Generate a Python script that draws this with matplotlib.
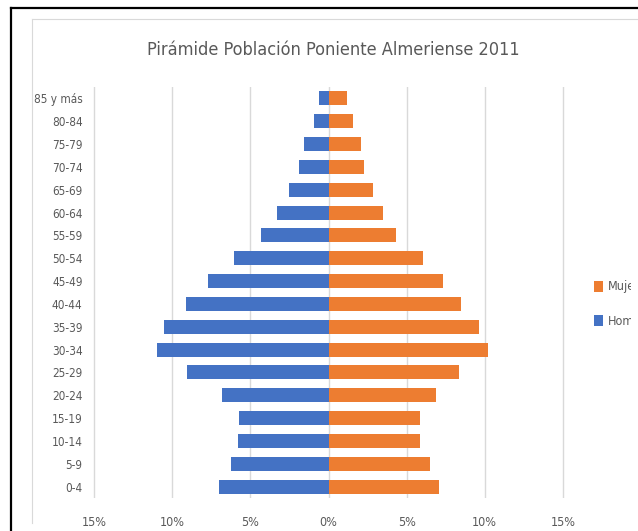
import matplotlib.pyplot as plt
from matplotlib.transforms import Bbox
from matplotlib.ticker import FuncFormatter
import numpy as np

plt.rcParams['font.family'] = ['DejaVu Sans']
plt.rcParams['font.stretch'] = 'condensed'

# grupos de edad (de abajo hacia arriba)
edades = ['0-4', '5-9', '10-14', '15-19', '20-24', '25-29', '30-34', '35-39',
          '40-44', '45-49', '50-54', '55-59', '60-64', '65-69', '70-74',
          '75-79', '80-84', '85 y más']
# porcentajes sobre la población total
hombres = [7.0, 6.26, 5.81, 5.75, 6.84, 9.04, 11.0, 10.55, 9.1, 7.71, 6.06,
           4.31, 3.29, 2.54, 1.92, 1.6, 0.96, 0.58]
mujeres = [7.05, 6.47, 5.85, 5.85, 6.85, 8.35, 10.2, 9.64, 8.5, 7.35, 6.03,
           4.33, 3.5, 2.82, 2.3, 2.05, 1.56, 1.17]
ticks = [-15, -10, -5, 0, 5, 10, 15]

W, H = 638, 531
fig = plt.figure(figsize=(W / 100, H / 100), dpi=100)
gray = '#595959'

# marcos (captura de pantalla)
fig.add_artist(plt.Line2D([11 / W, 11 / W], [0, 1 - 8 / H], color='black', lw=1.6,
                          transform=fig.transFigure))
fig.add_artist(plt.Line2D([11 / W, 1], [1 - 8 / H, 1 - 8 / H], color='black', lw=1.6,
                          transform=fig.transFigure))
fig.add_artist(plt.Line2D([32 / W, 32 / W], [8 / H, 1 - 19 / H], color='#d9d9d9', lw=0.8,
                          transform=fig.transFigure))
fig.add_artist(plt.Line2D([32 / W, 1], [1 - 19 / H, 1 - 19 / H], color='#d9d9d9', lw=0.8,
                          transform=fig.transFigure))

ax = fig.add_axes([91 / W, 33 / H, 475 / W, 411 / H])
y = np.arange(len(edades))
ax.barh(y, mujeres, height=0.62, color='#ED7D31', label='Mujeres', zorder=3)
ax.barh(y, [-v for v in hombres], height=0.62, color='#4472C4', label='Hombres', zorder=3)

ax.set_xlim(-15.2, 15.2)
ax.set_ylim(-0.5, len(edades) - 0.5)
ax.set_xticks(ticks)
ax.xaxis.set_major_formatter(FuncFormatter(lambda v, p: f'{abs(v):.0f}%'))
ax.set_yticks(y)
ax.set_yticklabels(edades)
ax.tick_params(axis='both', length=0, colors=gray, labelsize=8.5)
ax.tick_params(axis='x', pad=13, labelsize=9)
ax.tick_params(axis='y', pad=6)
ax.grid(axis='x', color='#d9d9d9', lw=1, zorder=0)
for s in ax.spines.values():
    s.set_visible(False)

fig.text(333 / W, 1 - 50 / H, 'Pirámide Población Poniente Almeriense 2011',
         ha='center', va='center', fontsize=13, color=gray)

leg = ax.legend(loc='center left', bbox_to_anchor=(594 / W, 1 - 304 / H),
                bbox_transform=fig.transFigure, frameon=False, fontsize=9,
                borderpad=0, borderaxespad=0,
                handlelength=0.7, handleheight=1.0, handletextpad=0.4,
                labelspacing=1.7, labelcolor=gray)
clip = Bbox.from_extents(0, 0, 631, H)
for t in leg.get_texts():
    t.set_clip_box(clip)
    t.set_clip_on(True)

fig.savefig('out.png', dpi=100)
